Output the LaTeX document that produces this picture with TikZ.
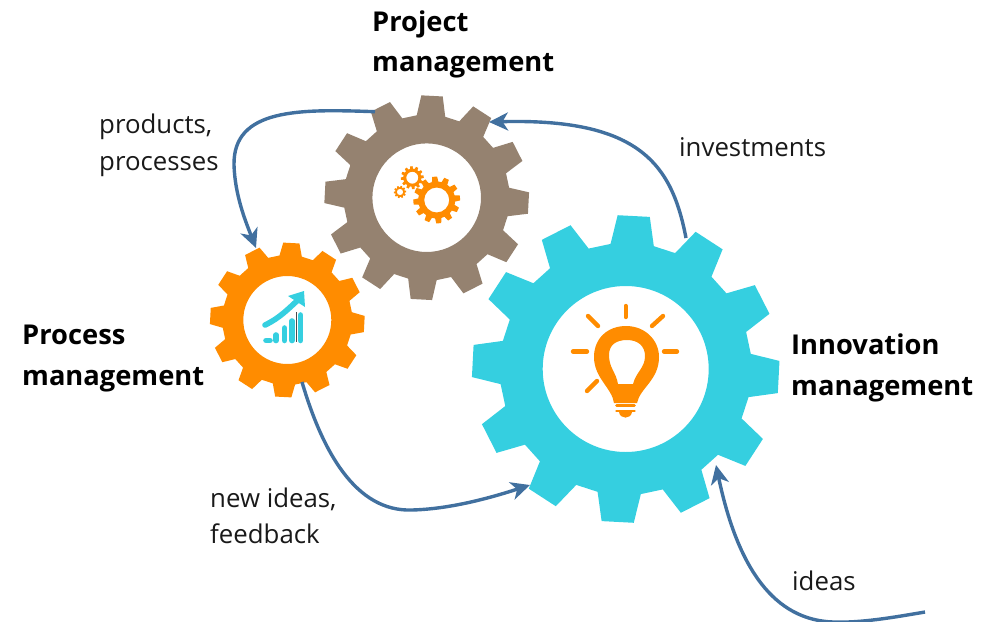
\documentclass[tikz,border=0pt]{standalone}
\usepackage{fontspec}
\setmainfont{Open Sans}
\usetikzlibrary{arrows.meta}
\definecolor{teal}{HTML}{35CFE0}
\definecolor{brownish}{HTML}{958270}
\definecolor{orangish}{HTML}{FF8C00}
\definecolor{arrowblue}{HTML}{41709F}
\tikzset{
  x=1pt,y=-1pt,
  gearshape/.style={even odd rule,draw=none},
  flow/.style={draw=arrowblue,line width=3.4pt,-{Stealth[length=19pt,width=18pt,inset=5.5pt]}},
  plain label/.style={anchor=north west,align=left,font=\fontsize{25.8}{36.5}\selectfont,text=black!90,inner sep=0pt},
  title label/.style={anchor=north west,align=left,font=\fontsize{27.3}{40.5}\selectfont\bfseries,text=black,inner sep=0pt},
  ray/.style={draw=orangish,line width=4.4pt,line cap=round},
  bar/.style={draw=teal,line width=5.6pt,line cap=round}
}
% #1 cx, #2 cy, #3 hole, #4 root, #5 tip, #6 rotation, #7 colour, #8 teeth
\newcommand{\gearat}[8]{%
  \pgfmathsetmacro{\stepang}{360/#8}
  \pgfmathsetmacro{\baseang}{0.33*\stepang}
  \pgfmathsetmacro{\tipang}{0.2*\stepang}
  \path[fill=#7,gearshape]
    ({#1+#4*cos(#6+\baseang)},{#2-#4*sin(#6+\baseang)})
    \foreach \k in {1,...,#8}{
      -- ({#1+#4*cos(#6+\k*\stepang-\baseang)},{#2-#4*sin(#6+\k*\stepang-\baseang)})
      -- ({#1+#5*cos(#6+\k*\stepang-\tipang)},{#2-#5*sin(#6+\k*\stepang-\tipang)})
      -- ({#1+#5*cos(#6+\k*\stepang+\tipang)},{#2-#5*sin(#6+\k*\stepang+\tipang)})
      -- ({#1+#4*cos(#6+\k*\stepang+\baseang)},{#2-#4*sin(#6+\k*\stepang+\baseang)})
    } -- cycle
    (#1,#2) circle[radius=#3];
}
\begin{document}
\begin{tikzpicture}
\useasboundingbox (0,0) rectangle (987,621);
\gearat{426.7}{197.7}{54.3}{83}{102.5}{-3}{brownish}{12}
\gearat{287.3}{320}{44}{65}{77.5}{-3}{orangish}{12}
\gearat{625.7}{369}{83}{126}{154}{-3}{teal}{12}
\gearat{436.7}{200}{12.5}{18.5}{23.5}{5}{orangish}{12}
\gearat{412.3}{177.7}{6}{9}{11.5}{5}{orangish}{12}
\gearat{400}{192}{3.2}{4.8}{6.2}{5}{orangish}{10}
\coordinate (c1s) at (375,111.7);
\coordinate (c1e) at (256,248);
\coordinate (c2s) at (686,238);
\coordinate (c2e) at (489,122);
\coordinate (c3s) at (302,382);
\coordinate (c3e) at (530,485);
\coordinate (c4s) at (925,612);
\coordinate (c4e) at (716,465);
\draw[flow] (c1s) .. controls (300,109) and (233,108) .. (234,165) .. controls (235,195) and (245,220) .. (c1e);
\draw[flow] (c2s) .. controls (672,165) and (640,118) .. (c2e);
\draw[flow] (c3s) .. controls (322,450) and (355,512) .. (412,510) .. controls (450,509) and (490,498) .. (c3e);
\draw[flow] (c4s) .. controls (890,618) and (860,623) .. (833,622) .. controls (775,620) and (738,570) .. (c4e);
% chart
\draw[bar] (266,340.5) -- (270,340.5);
\draw[bar] (276,335) -- (276,340.5);
\draw[bar] (284.5,328) -- (284.5,340.5);
\draw[bar] (292,321) -- (292,340.5);
\draw[bar] (300.5,315) -- (300.5,340.5);
\draw[draw=teal,line width=5.6pt,line cap=round] (265,325) .. controls (280,318) and (289,308) .. (298,300);
\fill[teal] (304,291) -- (305,307) -- (288,296) -- cycle;
\draw[black!70,line width=0.8pt] (296.5,312) -- (296.5,342);
% bulb
\draw[ray] (625.7,306) -- (625.7,317);
\draw[ray] (588,316) -- (598,326);
\draw[ray] (663,316) -- (652,326);
\draw[ray] (573,351.5) -- (587,351.5);
\draw[ray] (664,351.5) -- (677,351.5);
\draw[ray] (587,391) -- (597,381);
\path[fill=orangish,even odd rule]
  (614,403) .. controls (612,388) and (594,378) .. (594,357)
  .. controls (594,338) and (608,326) .. (626,326)
  .. controls (645,326) and (659,340) .. (659,357)
  .. controls (659,380) and (640,388) .. (637,403) -- cycle
  (618,384) .. controls (616,372) and (609,368) .. (609,355)
  .. controls (609,345) and (616,340) .. (627,340)
  .. controls (638,340) and (645,346) .. (645,356)
  .. controls (645,368) and (636,372) .. (633,384) -- cycle;
\draw[ray,line width=2.8pt] (616.5,405.5) -- (634.5,405.5);
\draw[ray,line width=2.8pt] (616.5,411) -- (634.5,411);
\fill[orangish] (619,412) -- (632,412) .. controls (631,419.5) and (620,419.5) .. (619,412) -- cycle;
% labels
\node[title label] (t1) at (372,10.5) {Project\\management};
\node[title label] (t2) at (22,325) {Process\\management};
\node[title label] (t3) at (791,334) {Innovation\\management};
\node[plain label] (l1) at (99,114) {products,\\processes};
\node[plain label] (l2) at (679,137) {investments};
\node[plain label] (l3) at (210,487.5) {new ideas,\\feedback};
\node[plain label] (l4) at (792,571) {ideas};
\end{tikzpicture}
\end{document}
